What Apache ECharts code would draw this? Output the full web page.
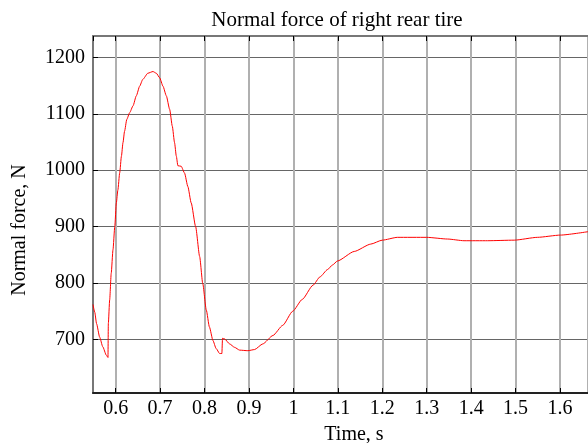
<!DOCTYPE html>
<html>
<head>
    <meta charset="utf-8">
    <style>
        html, body { margin: 0; padding: 0; background: #fff; }
        #main { width: 588px; height: 443px; }
    </style>
</head>
<body>
    <div id="main"></div>
    <script src="https://cdn.jsdelivr.net/npm/echarts@6/dist/echarts.min.js"></script>
    <script type="text/javascript">
        // time, s
        var time = [0.549, 0.553, 0.557, 0.564, 0.571, 0.579, 0.5827, 0.5835, 0.5865, 0.590,
            0.594, 0.598, 0.6015, 0.605, 0.609, 0.613, 0.6165, 0.620, 0.625, 0.6315,
            0.639, 0.6465, 0.654, 0.661, 0.6725, 0.684, 0.6915, 0.699, 0.7065, 0.714,
            0.7215, 0.7275, 0.7325, 0.7365, 0.740, 0.7475, 0.755, 0.7625, 0.770, 0.780,
            0.789, 0.796, 0.804, 0.811, 0.819, 0.826, 0.834, 0.839, 0.8405, 0.845,
            0.8565, 0.8675, 0.879, 0.8975, 0.9125, 0.931, 0.954, 0.976, 0.9985, 1.020,
            1.044, 1.060, 1.077, 1.088, 1.099, 1.137, 1.174, 1.200, 1.234, 1.300, 1.347,
            1.384, 1.437, 1.497, 1.549, 1.601, 1.663];
        // normal force, N
        var force = [762, 748, 728, 704, 687, 672, 668, 728, 770, 817,
            859, 900, 942, 965, 995, 1025, 1049, 1069, 1090, 1102,
            1114, 1132, 1149, 1161, 1172, 1175, 1172, 1164, 1149, 1132,
            1108, 1078, 1049, 1025, 1008, 1007, 995, 971, 942, 900,
            847, 799, 752, 722, 698, 684, 675, 675, 702, 701,
            692, 686, 681, 680, 682, 692, 707, 725, 750, 771,
            796, 811, 824, 832, 839, 856, 869, 876, 881, 881, 878,
            875, 875, 876, 881, 885, 891];

        var xRange = [0.549, 1.663];
        var yRange = [605, 1238];

        var titleText = 'Normal force of right rear tire';
        var xName = 'Time, s';
        var yName = 'Normal force, N';

        var serif = '"Liberation Serif", "Times New Roman", serif';

        var seriesData = [];
        for (var i = 0; i < time.length; i++) {
            seriesData.push([time[i], force[i]]);
        }

        var myChart = echarts.init(document.getElementById('main'));

        var option = {
            backgroundColor: '#fff',
            animation: false,
            grid: {
                left: 93,
                right: 0,
                top: 36,
                bottom: 50
            },
            graphic: [
                {
                    type: 'text',
                    x: 337,
                    y: 20,
                    style: {
                        text: titleText,
                        font: '21px ' + serif,
                        fill: '#000',
                        align: 'center',
                        verticalAlign: 'middle',
                        textAlign: 'center',
                        textVerticalAlign: 'middle'
                    }
                },
                {
                    type: 'text',
                    x: 354,
                    y: 435,
                    style: {
                        text: xName,
                        font: '20px ' + serif,
                        fill: '#000',
                        align: 'center',
                        verticalAlign: 'middle',
                        textAlign: 'center',
                        textVerticalAlign: 'middle'
                    }
                },
                {
                    type: 'text',
                    x: 20,
                    y: 230,
                    rotation: Math.PI / 2,
                    style: {
                        text: yName,
                        font: '20px ' + serif,
                        fill: '#000',
                        align: 'center',
                        verticalAlign: 'middle',
                        textAlign: 'center',
                        textVerticalAlign: 'middle'
                    }
                }
            ],
            xAxis: [
                {
                    type: 'value',
                    position: 'bottom',
                    min: xRange[0],
                    max: xRange[1],
                    splitNumber: 11,
                    axisLine: { lineStyle: { color: '#222', width: 2 } },
                    axisTick: { inside: true, length: 5, lineStyle: { color: '#000' } },
                    axisLabel: {
                        margin: 6,
                        color: '#000',
                        fontFamily: serif,
                        fontSize: 20,
                        showMinLabel: false,
                        showMaxLabel: false
                    },
                    splitLine: { lineStyle: { color: '#b0b0b0', width: 2 } }
                },
                {
                    type: 'value',
                    position: 'top',
                    min: xRange[0],
                    max: xRange[1],
                    splitNumber: 11,
                    axisLine: { onZero: false, lineStyle: { color: '#777', width: 2 } },
                    axisTick: { inside: true, length: 5, lineStyle: { color: '#000' } },
                    axisLabel: { show: false },
                    splitLine: { show: false }
                }
            ],
            yAxis: {
                type: 'value',
                min: yRange[0],
                max: yRange[1],
                axisLine: { show: true, onZero: false, lineStyle: { color: '#777', width: 2 } },
                axisTick: { show: true, inside: true, length: 5, lineStyle: { color: '#000' } },
                axisLabel: {
                    margin: 8,
                    color: '#000',
                    fontFamily: serif,
                    fontSize: 20,
                    showMinLabel: false,
                    showMaxLabel: false,
                    formatter: function (v) { return String(v); }
                },
                splitLine: { lineStyle: { color: '#666', width: 1 } }
            },
            series: [
                {
                    type: 'line',
                    data: seriesData,
                    showSymbol: false,
                    symbol: 'none',
                    smooth: 0.2,
                    smoothMonotone: 'x',
                    lineStyle: { color: '#ff0000', width: 1 },
                    itemStyle: { color: '#ff0000' }
                }
            ]
        };

        myChart.setOption(option);
    </script>
</body>
</html>
